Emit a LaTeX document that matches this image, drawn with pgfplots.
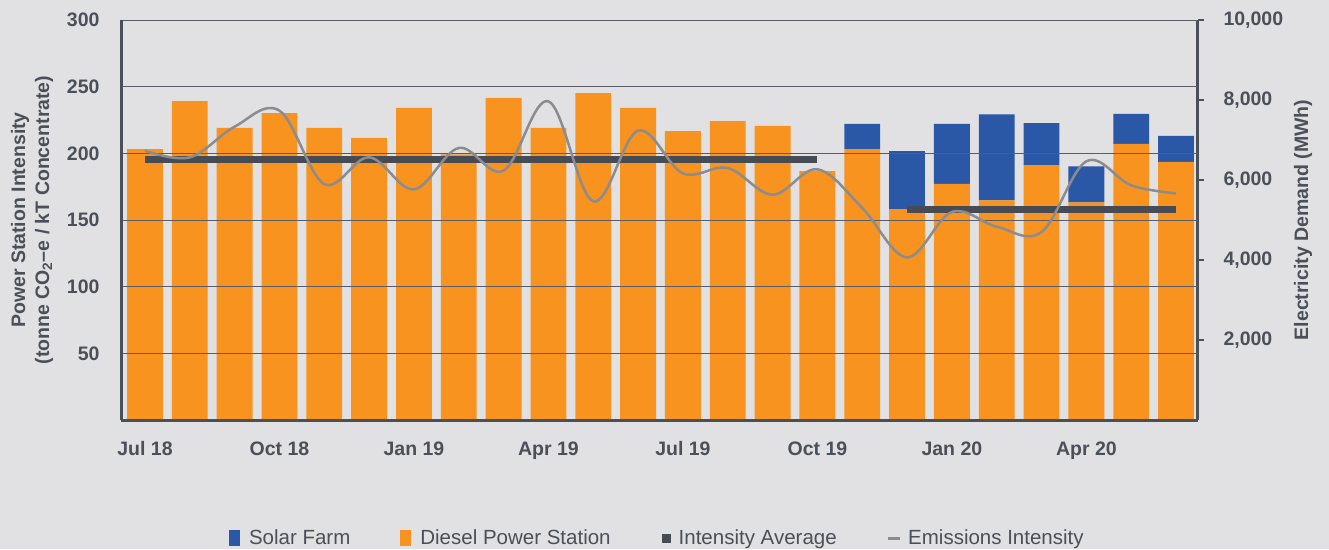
\documentclass[border=0pt]{standalone}
\usepackage{fontspec}
\setmainfont{Liberation Sans}
\usepackage{pgfplots}
\pgfplotsset{compat=1.18}
\definecolor{bg}{HTML}{E1E1E3}
\definecolor{diesel}{HTML}{F7931E}
\definecolor{solar}{HTML}{2B58A6}
\definecolor{avgc}{HTML}{474B53}
\definecolor{emis}{HTML}{8A8C90}
\definecolor{txt}{HTML}{4B4F58}
\definecolor{gridc}{HTML}{5A5D66}
\begin{document}
\begin{tikzpicture}[x=1pt,y=1pt]
\fill[bg] (0,0) rectangle (1329,549);
\useasboundingbox (0,0) rectangle (1329,549);
% ---------- bars on the right axis (MWh) ----------
\begin{axis}[
  at={(121pt,129pt)}, anchor=south west,
  scale only axis, width=1077pt, height=400pt,
  xmin=-0.535, xmax=23.49, ymin=0, ymax=10000,
  axis x line=none, axis y line*=right,
  y axis line style={line width=3pt, draw=txt, -},
  ybar stacked, bar width=0.8,
  xtick=\empty,
  ytick={2000,4000,6000,8000,10000},
  scaled y ticks=false,
  yticklabel style={font=\fontsize{19.5}{21}\selectfont\bfseries, text=txt, xshift=16pt,
    /pgf/number format/1000 sep={,}, /pgf/number format/assume math mode=true},
  ytick style={line width=2.5pt, draw=txt},
  major tick length=6pt, tick align=outside,
  ylabel={Electricity Demand (MWh)},
  every axis y label/.style={at={(axis description cs:1,0.5)}, xshift=105pt, rotate=90, anchor=center,
    font=\fontsize{19.5}{21}\selectfont\bfseries, text=txt},
]
\addplot[fill=diesel, draw=none] coordinates {
(0,6770) (1,7970) (2,7300) (3,7670) (4,7300) (5,7050) (6,7800) (7,6640)
(8,8050) (9,7300) (10,8170) (11,7800) (12,7220) (13,7470) (14,7350) (15,6220)
(16,6770) (17,5270) (18,5900) (19,5490) (20,6370) (21,5440) (22,6900) (23,6450)};
\addplot[fill=solar, draw=none] coordinates {
(0,0) (1,0) (2,0) (3,0) (4,0) (5,0) (6,0) (7,0)
(8,0) (9,0) (10,0) (11,0) (12,0) (13,0) (14,0) (15,0)
(16,630) (17,1450) (18,1500) (19,2150) (20,1050) (21,900) (22,750) (23,650)};
\end{axis}
% ---------- intensity on the left axis ----------
\begin{axis}[
  at={(121pt,129pt)}, anchor=south west,
  scale only axis, width=1077pt, height=400pt,
  xmin=-0.535, xmax=23.49, ymin=0, ymax=300,
  axis x line*=bottom, axis y line*=left,
  axis line style={line width=3pt, draw=txt, -},
  ytick={50,100,150,200,250,300},
  ymajorgrids, grid style={line width=0.9pt, draw=gridc},
  xtick={0,3,6,9,12,15,18,21},
  xticklabels={Jul 18, Oct 18, Jan 19, Apr 19, Jul 19, Oct 19, Jan 20, Apr 20},
  major tick length=0pt,
  yticklabel style={font=\fontsize{19.5}{21}\selectfont\bfseries, text=txt, xshift=-18pt,
    /pgf/number format/assume math mode=true},
  xticklabel style={font=\fontsize{19.5}{21}\selectfont\bfseries, text=txt, yshift=-18pt},
  ylabel={Power Station Intensity\\(tonne CO\textsubscript{2}--e / kT Concentrate)},
  every axis y label/.style={at={(axis description cs:0,0.5)}, xshift=-89pt, rotate=90, anchor=center,
    font=\fontsize{19.5}{24}\selectfont\bfseries, text=txt, align=center},
  legend columns=4,
  legend style={at={(0.498,-0.295)}, anchor=center, draw=none, fill=none,
    font=\fontsize{20.5}{22}\selectfont, text=txt,
    /tikz/every even column/.append style={column sep=48pt}},
]
\addlegendimage{legend image code/.code={\fill[solar, draw=none] (0pt,-8pt) rectangle (11pt,8pt); \path[draw=none,fill=none] (0pt,0pt) -- (18pt,0pt);}}
\addlegendentry{Solar Farm}
\addlegendimage{legend image code/.code={\fill[diesel, draw=none] (0pt,-8pt) rectangle (11pt,8pt); \path[draw=none,fill=none] (0pt,0pt) -- (18pt,0pt);}}
\addlegendentry{Diesel Power Station}
\addplot[avgc, line width=7pt, legend image code/.code={\fill[avgc, draw=none] (1pt,-4.5pt) rectangle (10pt,4.5pt); \path[draw=none,fill=none] (0pt,0pt) -- (16pt,0pt);}]
  coordinates {(0,195) (15,195)};
\addlegendentry{Intensity Average}
\addplot[avgc, line width=7pt, forget plot] coordinates {(17,158) (23,158)};
\addplot[emis, line width=2.5pt, smooth, tension=0.6,
  legend image code/.code={\draw[emis, line width=3pt] (0pt,0pt) -- (12pt,0pt); \path[draw=none,fill=none] (0pt,0pt) -- (18pt,0pt);}]
  coordinates {
(0,202) (1,197) (2,220) (3,232) (4,177) (5,197) (6,173) (7,204)
(8,187) (9,239) (10,164) (11,217) (12,185) (13,189) (14,169) (15,188)
(16,159) (17,122) (18,156) (19,145) (20,141) (21,194) (22,176) (23,170)};
\addlegendentry{Emissions Intensity}
\end{axis}
\end{tikzpicture}
\end{document}
